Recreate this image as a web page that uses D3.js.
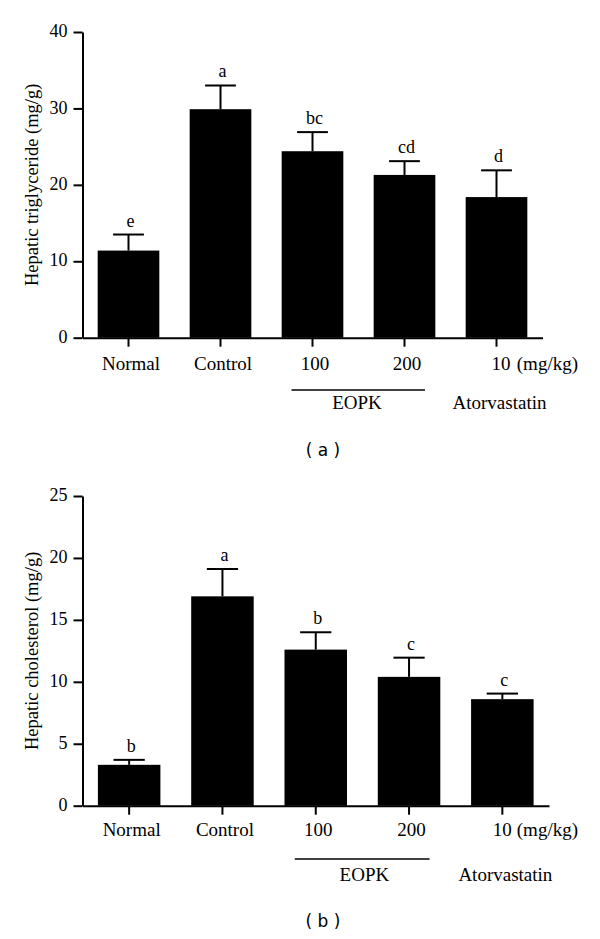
<!DOCTYPE html>
<html>
<head>
<meta charset="utf-8">
<script src="https://cdn.jsdelivr.net/npm/d3@7"></script>
<style>
  html, body { margin: 0; padding: 0; background: #fff; }
  svg { display: block; }
  svg text { font-family: 'Liberation Serif', serif; fill: #000; }
  svg text.panel { font-family: 'DejaVu Sans', sans-serif; }
</style>
</head>
<body>
<svg id="chart" width="600" height="939"></svg>
<script>
// ---------- data ----------
const categories = ["Normal", "Control", "100", "200", "10"];
const unitLabel = "(mg/kg)";
const groupEOPK = "EOPK";
const groupAtorva = "Atorvastatin";

const tgMeans = [11.4, 29.9, 24.4, 21.3, 18.4];
const tgErrors = [2.1, 3.1, 2.5, 1.8, 3.5];
const tgLetters = ["e", "a", "bc", "cd", "d"];
const tgTicks = [0, 10, 20, 30, 40];
const tgTitle = "Hepatic triglyceride (mg/g)";

const cholMeans = [3.3, 16.9, 12.6, 10.4, 8.6];
const cholErrors = [0.4, 2.2, 1.4, 1.55, 0.45];
const cholLetters = ["b", "a", "b", "c", "c"];
const cholTicks = [0, 5, 10, 15, 20, 25];
const cholTitle = "Hepatic cholesterol (mg/g)";

const panelA = "( a )";
const panelB = "( b )";

// ---------- drawing ----------
const svg = d3.select("#chart");
const SERIF = "'Liberation Serif', serif";

function drawPanel(opt) {
  const g = svg.append("g");
  const x = d3.scaleBand().domain(categories).range([opt.x0, opt.x1])
    .paddingInner(0.33).paddingOuter(0.165);
  const y = d3.scaleLinear().domain([0, d3.max(opt.ticks)]).range([opt.yBottom, opt.yTop]);
  const data = categories.map((c, i) => ({ c, m: opt.means[i], e: opt.errors[i], l: opt.letters[i] }));
  const cx = c => x(c) + x.bandwidth() / 2;

  // bars
  g.selectAll("rect.bar").data(data).join("rect")
    .attr("x", d => x(d.c)).attr("width", x.bandwidth())
    .attr("y", d => y(d.m)).attr("height", d => y(0) - y(d.m))
    .attr("fill", "#000");

  // error bars
  const cap = x.bandwidth() / 2;
  const eb = g.selectAll("g.eb").data(data).join("g");
  eb.append("line")
    .attr("x1", d => cx(d.c)).attr("x2", d => cx(d.c))
    .attr("y1", d => y(d.m)).attr("y2", d => y(d.m + d.e))
    .attr("stroke", "#000").attr("stroke-width", 2);
  eb.append("line")
    .attr("x1", d => cx(d.c) - cap / 2).attr("x2", d => cx(d.c) + cap / 2)
    .attr("y1", d => y(d.m + d.e)).attr("y2", d => y(d.m + d.e))
    .attr("stroke", "#000").attr("stroke-width", 2);
  // letters
  g.selectAll("text.letter").data(data).join("text")
    .attr("x", d => cx(d.c) + 2)
    .attr("y", d => y(d.m + d.e) - 8)
    .attr("text-anchor", "middle")
    .attr("font-family", SERIF).style("font-size", "18px")
    .text(d => d.l);

  // y axis
  const ya = g.append("g").attr("transform", `translate(${opt.x0},0)`)
    .call(d3.axisLeft(y).tickValues(opt.ticks).tickSize(9).tickPadding(6).tickSizeOuter(0));
  ya.attr("font-family", SERIF).attr("font-size", 18);
  ya.select(".domain").attr("stroke-width", 2);
  ya.selectAll(".tick line").attr("stroke-width", 2);
  ya.selectAll("text").attr("dy", "0.26em");

  // x axis
  const xa = g.append("g").attr("transform", `translate(0,${opt.yBottom})`)
    .call(d3.axisBottom(x).tickSize(9).tickSizeOuter(0));
  xa.attr("font-family", SERIF).attr("font-size", 19);
  xa.select(".domain").attr("stroke-width", 2);
  xa.selectAll(".tick line").attr("stroke-width", 2);
  xa.selectAll("text")
    .attr("y", opt.labelDy).attr("dy", 0)
    .attr("x", (d, i) => i === categories.length - 1 ? opt.lastDx : 2.5);

  // unit label
  g.append("text").attr("x", 578).attr("y", opt.yBottom + opt.labelDy)
    .attr("text-anchor", "end").style("font-size", "19px").text(unitLabel);

  // EOPK bracket line
  g.append("line")
    .attr("x1", cx("100") - 21).attr("x2", cx("200") + 20.5)
    .attr("y1", opt.yBottom + opt.lineDy).attr("y2", opt.yBottom + opt.lineDy)
    .attr("stroke", "#000").attr("stroke-width", 1.6);
  g.append("text").attr("x", (cx("100") + cx("200")) / 2 + opt.eopkDx)
    .attr("y", opt.yBottom + opt.groupDy).attr("text-anchor", "middle")
    .style("font-size", "19px").text(groupEOPK);
  g.append("text").attr("x", cx("10") + 3)
    .attr("y", opt.yBottom + opt.groupDy).attr("text-anchor", "middle")
    .style("font-size", "19px").text(groupAtorva);

  // y title
  g.append("text")
    .attr("transform", `translate(37.5,${(opt.yTop + opt.yBottom) / 2}) rotate(-90)`)
    .attr("text-anchor", "middle")
    .style("font-size", "18.5px").text(opt.title);

  // panel label
  g.append("text").attr("class", "panel").attr("x", 323).attr("y", opt.panelY)
    .attr("text-anchor", "middle").style("font-size", "17px")
    .style("white-space", "pre").text(opt.panel);
}

drawPanel({
  means: tgMeans, errors: tgErrors, letters: tgLetters, ticks: tgTicks, title: tgTitle,
  x0: 82.5, x1: 542.5, yTop: 32, yBottom: 337.7,
  labelDy: 32.3, lastDx: 4.5, lineDy: 52.3, groupDy: 71, eopkDx: -1.5,
  panel: panelA, panelY: 456
});
drawPanel({
  means: cholMeans, errors: cholErrors, letters: cholLetters, ticks: cholTicks, title: cholTitle,
  x0: 82.5, x1: 549, yTop: 496, yBottom: 805.7,
  labelDy: 30.3, lastDx: 0, lineDy: 53.3, groupDy: 75.5, eopkDx: 2,
  panel: panelB, panelY: 927
});
</script>
</body>
</html>
